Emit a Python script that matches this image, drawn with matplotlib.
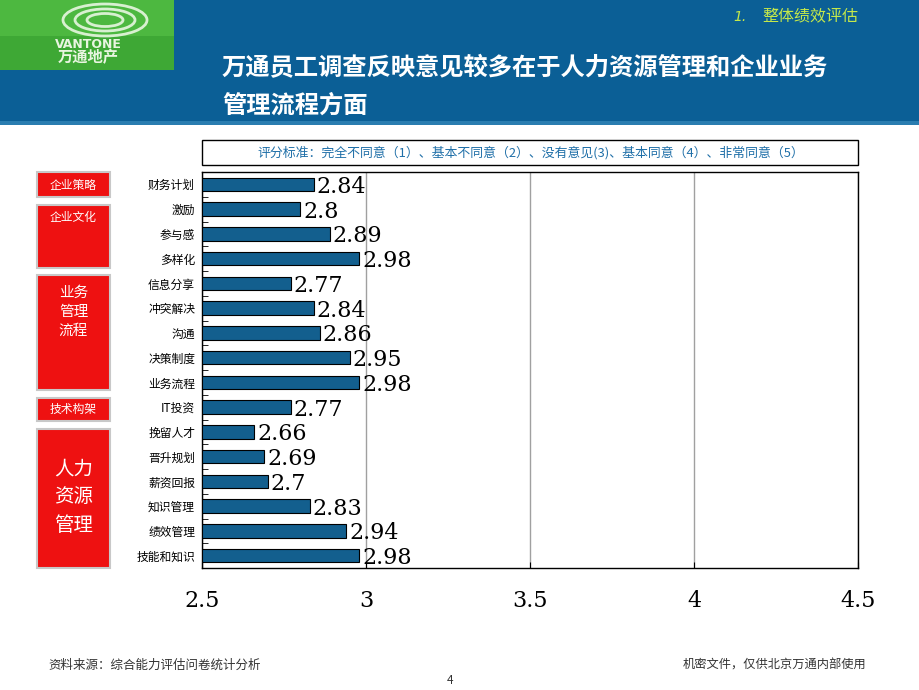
import matplotlib
matplotlib.use('Agg')
import matplotlib.pyplot as plt
import numpy as np
from matplotlib.patches import Rectangle, Ellipse

plt.rcParams['font.family'] = ['Noto Sans CJK SC', 'DejaVu Sans']

# data
categories = ['财务计划', '激励', '参与感', '多样化', '信息分享', '冲突解决', '沟通', '决策制度',
              '业务流程', 'IT投资', '挽留人才', '晋升规划', '薪资回报', '知识管理', '绩效管理', '技能和知识']
scores = [2.84, 2.8, 2.89, 2.98, 2.77, 2.84, 2.86, 2.95, 2.98, 2.77, 2.66, 2.69, 2.7, 2.83, 2.94, 2.98]
x_ticks = [2.5, 3, 3.5, 4, 4.5]
x_tick_labels = ['2.5', '3', '3.5', '4', '4.5']
groups = ['企业策略', '企业文化', '业务\n管理\n流程', '技术构架', '人力\n资源\n管理']

title = '万通员工调查反映意见较多在于人力资源管理和企业业务\n管理流程方面'
section_no = '1.'
section = '整体绩效评估'
legend_text = '评分标准：完全不同意（1）、基本不同意（2）、没有意见(3)、基本同意（4）、非常同意（5）'
source_text = '资料来源：综合能力评估问卷统计分析'
secret_text = '机密文件，仅供北京万通内部使用'

W, H = 920, 690
fig = plt.figure(figsize=(9.2, 6.9), dpi=100)


def fx(px):
    return px / W


def fy(py):
    return 1 - py / H


def fig_rect(x0, y0, x1, y1, **kw):
    fig.patches.append(Rectangle((fx(x0), fy(y1)), fx(x1) - fx(x0), fy(y0) - fy(y1),
                                 transform=fig.transFigure, **kw))


# header band
fig_rect(0, 0, 920, 122, facecolor='#0B5F96', edgecolor='none')
fig_rect(0, 121, 920, 125, facecolor='#2A7DB0', edgecolor='none')
# logo
fig_rect(0, 0, 174, 70, facecolor='#4DB840', edgecolor='none')
fig_rect(0, 36, 174, 70, facecolor='#3EA835', edgecolor='none')
for w_, h_ in [(84, 32), (60, 22), (36, 13)]:
    fig.patches.append(Ellipse((fx(105), fy(20)), fx(w_), h_ / H,
                               transform=fig.transFigure, facecolor='none',
                               edgecolor='#D8F0D0', linewidth=2))
fig.text(fx(88), fy(44), 'VANTONE', color='#E8F5E0', fontsize=9, fontweight='bold',
         ha='center', va='center', family=['DejaVu Sans'])
fig.text(fx(88), fy(57), '万通地产', color='#E8F5E0', fontsize=11, fontweight='bold',
         ha='center', va='center')

fig.text(fx(222), fy(87), title, color='white', fontsize=17.5, fontweight='bold',
         ha='left', va='center', linespacing=1.7)
fig.text(fx(733), fy(17), section_no, color='#C5E84A', fontsize=10, style='italic',
         ha='left', va='center', family=['DejaVu Sans'])
fig.text(fx(762), fy(17), section, color='#C5E84A', fontsize=11.5, style='italic',
         ha='left', va='center')

# legend box
fig_rect(202, 140, 858, 165, facecolor='white', edgecolor='black', linewidth=1)
fig.text(fx(531), fy(153), legend_text, color='#1F6FA8', fontsize=9.3,
         ha='center', va='center')

# group boxes
group_boxes = [(172, 197), (205, 268), (275, 390), (398, 421), (429, 568)]
group_text_y = [185, 218, 312, 409, 497]
group_font = [8.5, 8.5, 10.5, 8.5, 14]
for (y0, y1), ty, g, fs in zip(group_boxes, group_text_y, groups, group_font):
    fig_rect(37, y0, 110, y1, facecolor='#EE1111', edgecolor='#C8C8C8', linewidth=1.5)
    fig.text(fx(73.5), fy(ty), g, color='white', fontsize=fs, ha='center', va='center',
             linespacing=1.45)

# chart
ax = fig.add_axes([fx(202), fy(568), fx(858) - fx(202), fy(172) - fy(568)])
ind = np.arange(len(categories))
ax.barh(ind, [s - x_ticks[0] for s in scores], left=x_ticks[0], height=0.55,
        color='#135F8E', edgecolor='black', linewidth=0.8, zorder=3)
for i, s in zip(ind, scores):
    ax.text(s + 0.008, i + 0.1, '%g' % s, fontsize=16, va='center', ha='left',
            family=['DejaVu Serif'], zorder=4)
ax.set_xlim(2.5, 4.5)
ax.set_ylim(len(categories) - 0.5, -0.5)
ax.set_xticks(x_ticks)
ax.set_xticklabels(x_tick_labels, family=['DejaVu Serif'], fontsize=16)
ax.tick_params(axis='x', direction='in', length=4, pad=16)
ax.set_yticks(ind)
ax.set_yticklabels(categories, fontsize=8.5)
ax.tick_params(axis='y', length=0, pad=5)
ax.set_yticks(np.arange(len(categories) + 1) - 0.5, minor=True)
ax.tick_params(axis='y', which='minor', direction='in', length=4)
ax.xaxis.grid(True, color='#A0A0A0', linewidth=1)
ax.set_axisbelow(True)
for sp in ax.spines.values():
    sp.set_color('black')
    sp.set_linewidth(1)

# footer
fig.text(fx(48), fy(665), source_text, color='#333333', fontsize=9, ha='left', va='center')
fig.text(fx(866), fy(665), secret_text, color='#333333', fontsize=8.8, ha='right', va='center')
fig.text(fx(450), fy(680), '4', color='#333333', fontsize=8.5, ha='center', va='center')

fig.savefig('out.png', dpi=100)
